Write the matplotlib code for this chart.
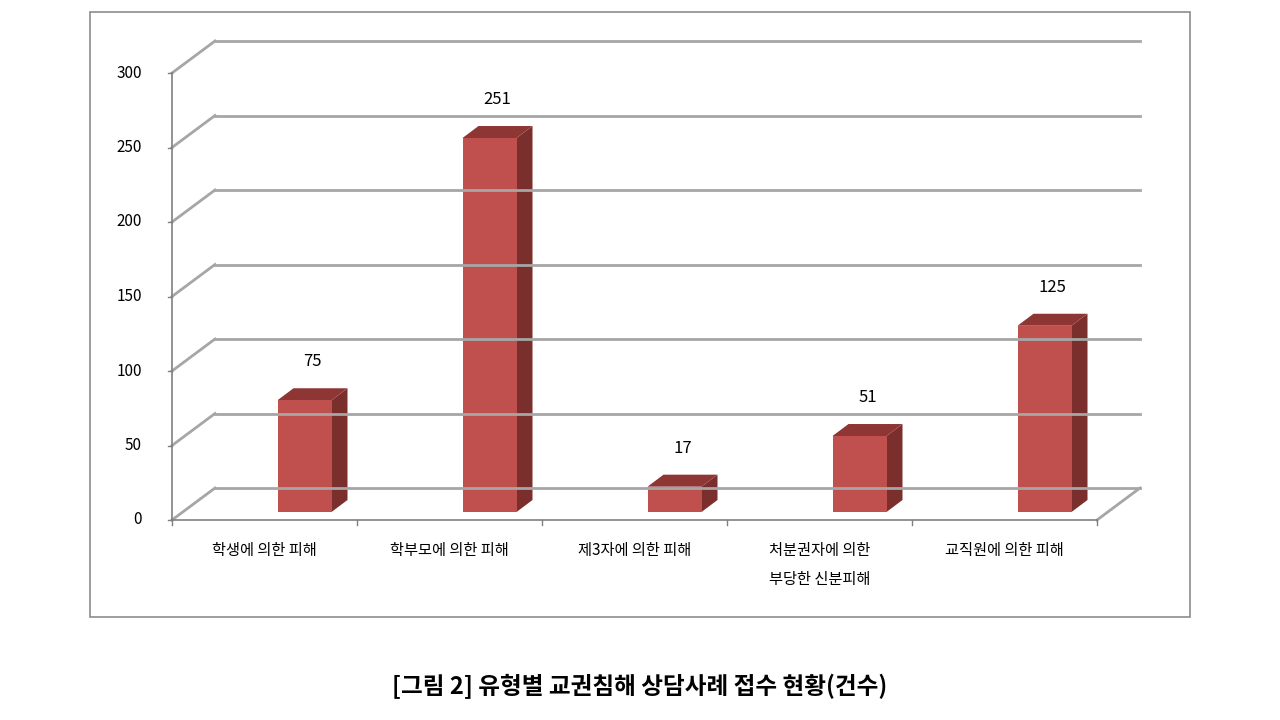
import matplotlib
matplotlib.use("Agg")
import matplotlib.pyplot as plt
from matplotlib.patches import Polygon, Rectangle

plt.rcParams['font.family'] = ['Noto Sans CJK KR', 'DejaVu Sans']

categories = ['학생에 의한 피해', '학부모에 의한 피해', '제3자에 의한 피해',
              '처분권자에 의한\n부당한 신분피해', '교직원에 의한 피해']
values = [75, 251, 17, 51, 125]
yticks = [0, 50, 100, 150, 200, 250, 300]
caption = '[그림 2] 유형별 교권침해 상담사례 접수 현황(건수)'

W, H = 1280, 720
fig = plt.figure(figsize=(12.8, 7.2), dpi=100)

# outer frame
frame = fig.add_axes([0, 0, 1, 1])
frame.set_xlim(0, W); frame.set_ylim(H, 0); frame.axis('off')
frame.add_patch(Rectangle((90, 12), 1100, 605, fill=False, ec='#8c8c8c', lw=1.2))
frame.text(640, 686, caption, ha='center', va='center', fontsize=17, fontweight='bold')

# front plane of the pseudo-3D plot
ax = fig.add_axes([172 / W, (H - 520) / H, 925 / W, 447 / H])
ax.set_xlim(0, 5); ax.set_ylim(0, 300); ax.axis('off')
px_x = 5 / 925.0
px_y = 300 / 447.0
dx, dy = 43 * px_x, 32 * px_y          # wall depth
grid = '#a6a6a6'

for v in yticks:
    ax.plot([dx, 5 + dx], [v + dy, v + dy], color=grid, lw=2, clip_on=False)
    ax.plot([0, dx], [v, v + dy], color=grid, lw=2, clip_on=False)
    ax.plot([-4 * px_x, 0], [v, v], color='#808080', lw=1, clip_on=False)
    ax.text(-30 * px_x, v, str(v), ha='right', va='center', fontsize=11)
ax.plot([5, 5 + dx], [0, dy], color=grid, lw=2, clip_on=False)
ax.plot([0, 0], [0, 300], color='#808080', lw=1.2, clip_on=False)
ax.plot([0, 5], [0, 0], color='#808080', lw=1.2, clip_on=False)
for i in range(6):
    ax.plot([i, i], [0, -5 * px_y], color='#808080', lw=1, clip_on=False)

# bars
bw = 54 * px_x
bdx, bdy = 16 * px_x, 12 * px_y
bx_off = 40 * px_x
by_off = 8 * px_y
for i, (v, lab) in enumerate(zip(values, categories)):
    c = i + 0.5 + bx_off
    x0, x1 = c - bw / 2, c + bw / 2
    y0, y1 = by_off, by_off + v
    ax.add_patch(Polygon([(x1, y0), (x1 + bdx, y0 + bdy), (x1 + bdx, y1 + bdy), (x1, y1)],
                         closed=True, fc='#7b2f2d', ec='none', clip_on=False))
    ax.add_patch(Polygon([(x0, y1), (x1, y1), (x1 + bdx, y1 + bdy), (x0 + bdx, y1 + bdy)],
                         closed=True, fc='#8e3634', ec='none', clip_on=False))
    ax.add_patch(Rectangle((x0, y0), bw, v, fc='#c0504d', ec='none', clip_on=False))
    ax.text(c + bdx / 2, y1 + bdy + 18 * px_y, str(v), ha='center', va='bottom', fontsize=12)
    ax.text(i + 0.5, -22 * px_y, lab, ha='center', va='top', fontsize=11, linespacing=1.9)

fig.savefig('out.png', dpi=100)
